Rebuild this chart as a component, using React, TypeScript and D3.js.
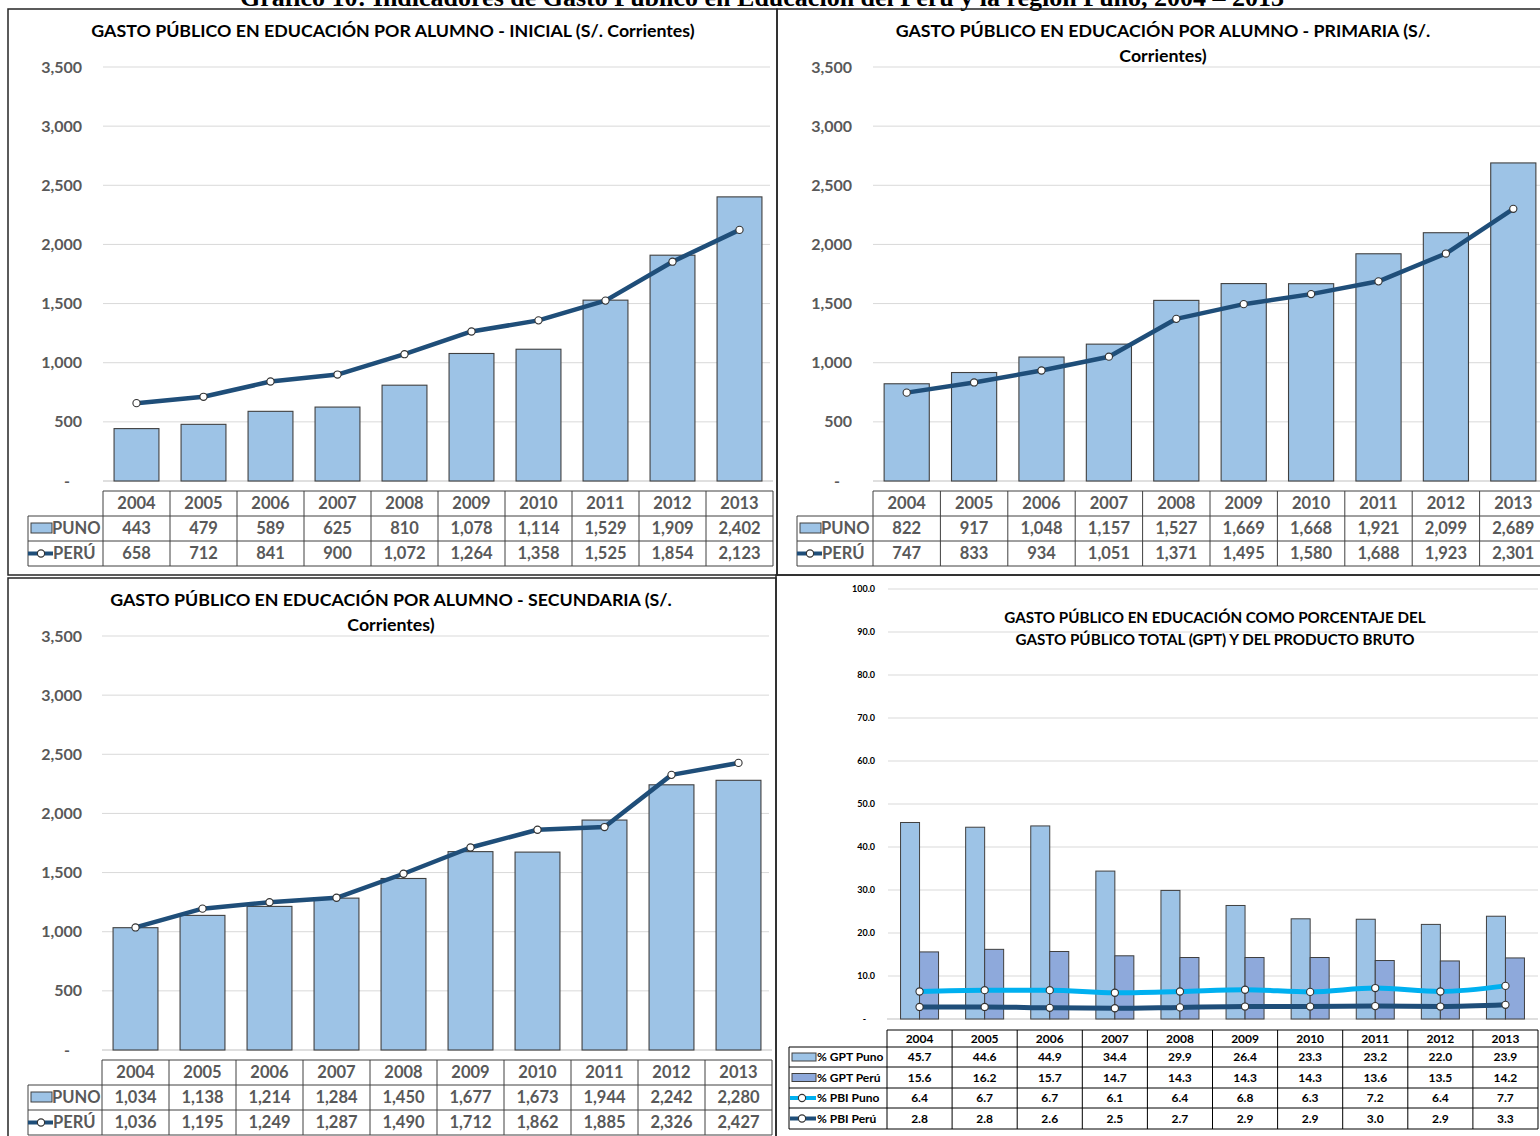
import React from 'react';
import * as d3 from 'd3';

const years = ['2004', '2005', '2006', '2007', '2008', '2009', '2010', '2011', '2012', '2013'];

const inicialPuno = [443, 479, 589, 625, 810, 1078, 1114, 1529, 1909, 2402];
const inicialPeru = [658, 712, 841, 900, 1072, 1264, 1358, 1525, 1854, 2123];
const primariaPuno = [822, 917, 1048, 1157, 1527, 1669, 1668, 1921, 2099, 2689];
const primariaPeru = [747, 833, 934, 1051, 1371, 1495, 1580, 1688, 1923, 2301];
const secundariaPuno = [1034, 1138, 1214, 1284, 1450, 1677, 1673, 1944, 2242, 2280];
const secundariaPeru = [1036, 1195, 1249, 1287, 1490, 1712, 1862, 1885, 2326, 2427];

const gptPuno = [45.7, 44.6, 44.9, 34.4, 29.9, 26.4, 23.3, 23.2, 22.0, 23.9];
const gptPeru = [15.6, 16.2, 15.7, 14.7, 14.3, 14.3, 14.3, 13.6, 13.5, 14.2];
const pbiPuno = [6.4, 6.7, 6.7, 6.1, 6.4, 6.8, 6.3, 7.2, 6.4, 7.7];
const pbiPeru = [2.8, 2.8, 2.6, 2.5, 2.7, 2.9, 2.9, 3.0, 2.9, 3.3];

const alumnoTicks = [0, 500, 1000, 1500, 2000, 2500, 3000, 3500];
const pctTicks = [0, 10, 20, 30, 40, 50, 60, 70, 80, 90, 100];

const C = {
  barLight: '#9DC3E6',
  barDark: '#8EA9DB',
  line: '#1F4E79',
  cyan: '#00B0F0',
  grid: '#D9D9D9',
  axis: '#BFBFBF',
  text: '#595959',
  border: '#404040',
};
const FONT = 'Lato, "Open Sans", sans-serif';

const fmtInt = d3.format(',');
const fmtPct = d3.format('.1f');

type PanelProps = {
  title: string[];
  titleX: number;
  titleY: number;
  puno: number[];
  peru: number[];
  left: number;
  right: number;
  top: number;
  zero: number;
  labelRight: number;
  legendLeft: number;
  tableTop: number;
};

const Marker = ({ x, y }: { x: number; y: number }) => (
  <circle cx={x} cy={y} r={3.6} fill="#fff" stroke="#333" strokeWidth={1.1} />
);

const AlumnoPanel = (p: PanelProps) => {
  const x = d3.scaleBand<string>().domain(years).range([p.left, p.right]);
  const y = d3.scaleLinear().domain([0, 3500]).range([p.zero, p.top]);
  const bw = x.bandwidth() * 0.67;
  const cx = (i: number) => x(years[i])! + x.bandwidth() / 2;
  const line = d3.line<number>()
    .x((_, i) => cx(i))
    .y(d => y(d));
  const rowH = 25;
  const rows = [p.tableTop, p.tableTop + rowH, p.tableTop + 2 * rowH, p.tableTop + 3 * rowH];

  return (
    <g fontFamily={FONT}>
      {p.title.map((t, i) => (
        <text key={i} x={p.titleX} y={p.titleY + i * 25} textAnchor="middle"
          fontSize={17.8} fontWeight="bold" fill="#000">{t}</text>
      ))}
      {alumnoTicks.map(t => (
        <g key={t}>
          {t > 0 && <line x1={p.left} x2={p.right - 3} y1={y(t)} y2={y(t)} stroke={C.grid} />}
          <text x={t === 0 ? p.labelRight - 12 : p.labelRight} y={y(t)} dy="0.35em" textAnchor="end"
            fontSize={16} fontWeight="bold" fill={C.text}>{t === 0 ? '-' : fmtInt(t)}</text>
        </g>
      ))}
      <line x1={p.left} x2={p.right} y1={p.zero} y2={p.zero} stroke={C.axis} />
      {p.puno.map((v, i) => (
        <rect key={i} x={cx(i) - bw / 2} y={y(v)} width={bw} height={p.zero - y(v)}
          fill={C.barLight} stroke={C.border} strokeWidth={1.1} />
      ))}
      <path d={line(p.peru)!} fill="none" stroke={C.line} strokeWidth={4.5}
        strokeLinejoin="round" strokeLinecap="round" />
      {p.peru.map((v, i) => <Marker key={i} x={cx(i)} y={y(v)} />)}

      {/* data table */}
      <g stroke={C.border} strokeWidth={1} fill="none">
        <line x1={p.left} x2={p.right} y1={rows[0]} y2={rows[0]} />
        <line x1={p.legendLeft} x2={p.right} y1={rows[1]} y2={rows[1]} />
        <line x1={p.legendLeft} x2={p.right} y1={rows[2]} y2={rows[2]} />
        <line x1={p.legendLeft} x2={p.right} y1={rows[3]} y2={rows[3]} />
        <line x1={p.legendLeft} x2={p.legendLeft} y1={rows[1]} y2={rows[3]} />
        {years.map(yr => (
          <line key={yr} x1={x(yr)!} x2={x(yr)!} y1={rows[0]} y2={rows[3]} />
        ))}
        <line x1={p.right} x2={p.right} y1={rows[0]} y2={rows[3]} />
      </g>
      {years.map((yr, i) => (
        <g key={yr} fontSize={16.5} fontWeight="bold" fill={C.text} textAnchor="middle">
          <text x={cx(i)} y={rows[0] + rowH / 2} dy="0.36em">{yr}</text>
          <text x={cx(i)} y={rows[1] + rowH / 2} dy="0.36em">{fmtInt(p.puno[i])}</text>
          <text x={cx(i)} y={rows[2] + rowH / 2} dy="0.36em">{fmtInt(p.peru[i])}</text>
        </g>
      ))}
      <rect x={p.legendLeft + 3} y={rows[1] + 7} width={21} height={10} fill={C.barLight} stroke={C.border} />
      <text x={p.legendLeft + 24} y={rows[1] + rowH / 2} dy="0.36em" fontSize={16.5} fontWeight="bold" fill={C.text}>PUNO</text>
      <line x1={p.legendLeft} x2={p.legendLeft + 25} y1={rows[2] + rowH / 2} y2={rows[2] + rowH / 2} stroke={C.line} strokeWidth={4} />
      <Marker x={p.legendLeft + 13} y={rows[2] + rowH / 2} />
      <text x={p.legendLeft + 25} y={rows[2] + rowH / 2} dy="0.36em" fontSize={16.5} fontWeight="bold" fill={C.text}>PERÚ</text>
    </g>
  );
};

const PctPanel = () => {
  const left = 887;
  const right = 1538;
  const x = d3.scaleBand<string>().domain(years).range([left, right]);
  const y = d3.scaleLinear().domain([0, 100]).range([1019, 589]);
  const cx = (i: number) => x(years[i])! + x.bandwidth() / 2;
  const bw = 19;
  const line = d3.line<number>()
    .x((_, i) => cx(i))
    .y(d => y(d))
    .curve(d3.curveMonotoneX);
  const legendLeft = 789;
  const rows = [1030, 1047, 1067, 1088, 1108, 1129];
  const series = [
    { name: '% GPT Puno', values: gptPuno, kind: 'bar', color: C.barLight },
    { name: '% GPT Perú', values: gptPeru, kind: 'bar', color: C.barDark },
    { name: '% PBI Puno', values: pbiPuno, kind: 'line', color: C.cyan },
    { name: '% PBI Perú', values: pbiPeru, kind: 'line', color: C.line },
  ];

  return (
    <g fontFamily={FONT}>
      {pctTicks.map(t => (
        <g key={t}>
          {t > 0 && <line x1={left + 1} x2={right} y1={y(t)} y2={y(t)} stroke={C.grid} />}
          <text x={t === 0 ? 866 : 875} y={y(t)} dy="0.35em" textAnchor="end"
            fontSize={9} fontWeight="bold" fill="#000">{t === 0 ? '-' : fmtPct(t)}</text>
        </g>
      ))}
      <line x1={left} x2={right} y1={y(0)} y2={y(0)} stroke={C.axis} />
      <text x={1215} y={618} dy="0.35em" textAnchor="middle" fontSize={15.2} fontWeight="bold" fill="#000">
        GASTO PÚBLICO EN EDUCACIÓN COMO PORCENTAJE DEL
      </text>
      <text x={1215} y={640} dy="0.35em" textAnchor="middle" fontSize={15.2} fontWeight="bold" fill="#000">
        GASTO PÚBLICO TOTAL (GPT) Y DEL PRODUCTO BRUTO
      </text>
      {gptPuno.map((v, i) => (
        <rect key={'a' + i} x={cx(i) - bw} y={y(v)} width={bw} height={y(0) - y(v)}
          fill={C.barLight} stroke={C.border} strokeWidth={1} />
      ))}
      {gptPeru.map((v, i) => (
        <rect key={'b' + i} x={cx(i)} y={y(v)} width={bw} height={y(0) - y(v)}
          fill={C.barDark} stroke={C.border} strokeWidth={1} />
      ))}
      <path d={line(pbiPuno)!} fill="none" stroke={C.cyan} strokeWidth={5} strokeLinecap="round" />
      <path d={line(pbiPeru)!} fill="none" stroke={C.line} strokeWidth={5} strokeLinecap="round" />
      {pbiPuno.map((v, i) => <Marker key={'c' + i} x={cx(i)} y={y(v)} />)}
      {pbiPeru.map((v, i) => <Marker key={'d' + i} x={cx(i)} y={y(v)} />)}

      <g stroke="#000" strokeWidth={1} fill="none">
        <line x1={left} x2={right} y1={rows[0]} y2={rows[0]} />
        {rows.slice(1).map(r => <line key={r} x1={legendLeft} x2={right} y1={r} y2={r} />)}
        <line x1={legendLeft} x2={legendLeft} y1={rows[1]} y2={rows[5]} />
        {years.map(yr => <line key={yr} x1={x(yr)!} x2={x(yr)!} y1={rows[0]} y2={rows[5]} />)}
        <line x1={right} x2={right} y1={rows[0]} y2={rows[5]} />
      </g>
      {years.map((yr, i) => (
        <text key={yr} x={cx(i)} y={(rows[0] + rows[1]) / 2} dy="0.36em" textAnchor="middle"
          fontSize={12} fontWeight="bold" fill="#000">{yr}</text>
      ))}
      {series.map((s, k) => {
        const mid = (rows[k + 1] + rows[k + 2]) / 2;
        return (
          <g key={s.name}>
            {s.kind === 'bar'
              ? <rect x={legendLeft + 3} y={mid - 4} width={24} height={8} fill={s.color} stroke={C.border} />
              : <>
                  <line x1={legendLeft + 1} x2={legendLeft + 27} y1={mid} y2={mid} stroke={s.color} strokeWidth={4} />
                  <Marker x={legendLeft + 13} y={mid} />
                </>}
            <text x={legendLeft + 28} y={mid} dy="0.36em" fontSize={12} fontWeight="bold" fill="#000">{s.name}</text>
            {s.values.map((v, i) => (
              <text key={i} x={cx(i)} y={mid} dy="0.36em" textAnchor="middle"
                fontSize={12} fontWeight="bold" fill="#000">{fmtPct(v)}</text>
            ))}
          </g>
        );
      })}
    </g>
  );
};

export default function App() {
  return (
    <svg width={1540} height={1136} style={{ position: 'absolute', left: 0, top: 0, background: '#fff' }}>
      <rect width={1540} height={1136} fill="#fff" />
      {/* page title, cropped at the top edge as in the source */}
      <text x={762} y={6} textAnchor="middle" fontFamily='"Liberation Serif", "Times New Roman", serif'
        fontSize={26} fontWeight="bold" fill="#000">
        Gráfico 10: Indicadores de Gasto Público en Educación del Perú y la región Puno, 2004 – 2013
      </text>

      <AlumnoPanel title={['GASTO PÚBLICO EN EDUCACIÓN POR ALUMNO - INICIAL (S/. Corrientes)']}
        titleX={393} titleY={37} puno={inicialPuno} peru={inicialPeru}
        left={103} right={773} top={67} zero={481} labelRight={82} legendLeft={28} tableTop={491} />
      <AlumnoPanel title={['GASTO PÚBLICO EN EDUCACIÓN POR ALUMNO - PRIMARIA (S/.', 'Corrientes)']}
        titleX={1163} titleY={37} puno={primariaPuno} peru={primariaPeru}
        left={873} right={1547} top={67} zero={481} labelRight={852} legendLeft={797} tableTop={491} />
      <AlumnoPanel title={['GASTO PÚBLICO EN EDUCACIÓN POR ALUMNO - SECUNDARIA (S/.', 'Corrientes)']}
        titleX={391} titleY={606} puno={secundariaPuno} peru={secundariaPeru}
        left={102} right={772} top={636} zero={1050} labelRight={82} legendLeft={28} tableTop={1060} />
      <PctPanel />

      <g fill="none" stroke="#262626" strokeWidth={1.5}>
        <rect x={8} y={9} width={769} height={566} />
        <rect x={777} y={9} width={770} height={566} />
        <rect x={8} y={578} width={768} height={570} />
        <rect x={776} y={575} width={771} height={573} />
      </g>
    </svg>
  );
}
